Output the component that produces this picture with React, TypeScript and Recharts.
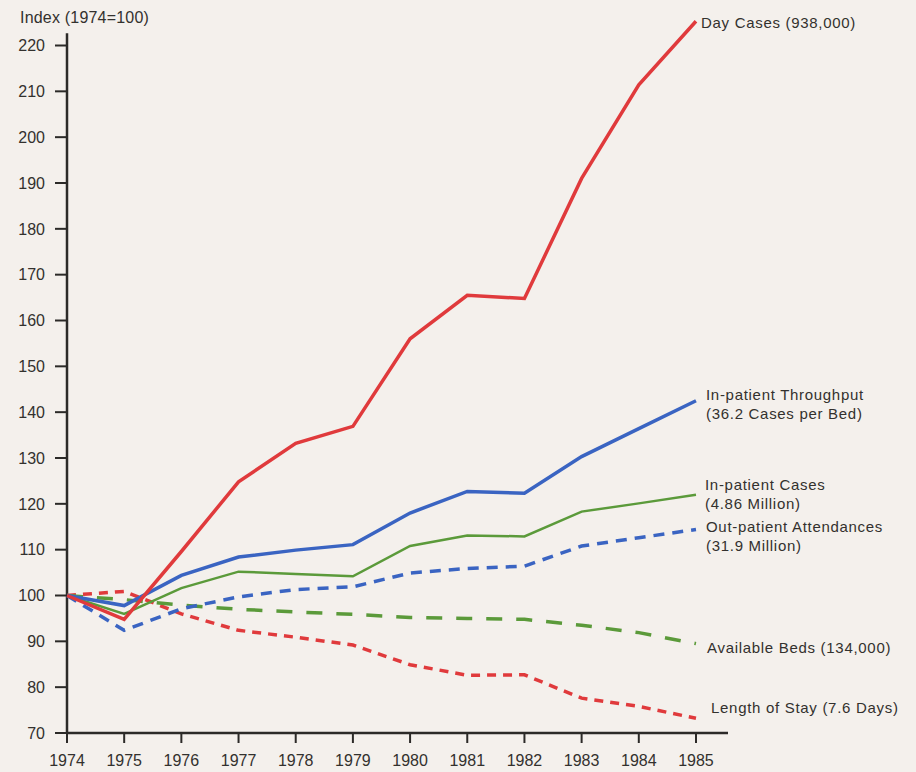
import React from "react";
import { LineChart, Line, XAxis, YAxis, ReferenceLine } from "recharts";

const years = [1974, 1975, 1976, 1977, 1978, 1979, 1980, 1981, 1982, 1983, 1984, 1985];
const yTicks = [70, 80, 90, 100, 110, 120, 130, 140, 150, 160, 170, 180, 190, 200, 210, 220];

const dayCases = [100, 94.8, 109.6, 124.8, 133.2, 136.9, 156, 165.5, 164.8, 191, 211.4, 225.3];
const throughput = [100, 97.8, 104.4, 108.4, 109.9, 111.1, 118, 122.7, 122.3, 130.3, 136.4, 142.5];
const inpatientCases = [100, 96, 101.6, 105.2, 104.7, 104.2, 110.8, 113.1, 112.9, 118.3, 120.1, 122];
const outpatient = [100, 92.4, 97.1, 99.7, 101.3, 101.9, 104.9, 105.9, 106.4, 110.8, 112.6, 114.4];
const beds = [100, 99.1, 97.9, 97, 96.4, 95.9, 95.2, 95, 94.8, 93.5, 91.9, 89.5];
const lengthOfStay = [100, 100.9, 96, 92.4, 90.9, 89.2, 84.9, 82.6, 82.7, 77.6, 75.8, 73.2];

const seriesLabels = [
  ["Day Cases (938,000)"],
  ["In-patient Throughput", "(36.2 Cases per Bed)"],
  ["In-patient Cases", "(4.86 Million)"],
  ["Out-patient Attendances", "(31.9 Million)"],
  ["Available Beds (134,000)"],
  ["Length of Stay (7.6 Days)"],
];

const rows = years.map((year, i) => ({
  year,
  dayCases: dayCases[i],
  throughput: throughput[i],
  inpatientCases: inpatientCases[i],
  outpatient: outpatient[i],
  beds: beds[i],
  lengthOfStay: lengthOfStay[i],
}));

const RED = "#e03a3c";
const BLUE = "#3a64c2";
const GREEN = "#5b9a3a";
const INK = "#2c2a28";
const TEXT = "#33312e";
const FONT = "'Liberation Sans', Arial, Helvetica, sans-serif";

// where each annotation sits (left, top)
const labelPos = [
  [701, 14],
  [706, 386],
  [705, 476],
  [706, 518],
  [707, 639],
  [711, 699],
];

export default function App() {
  const tickStyle = { fill: TEXT, fontSize: 16, fontFamily: FONT };

  return (
    <div
      style={{
        position: "absolute",
        left: 0,
        top: 0,
        width: 916,
        height: 772,
        background: "#f4f0ec",
        fontFamily: FONT,
        overflow: "hidden",
      }}
    >
      <div style={{ position: "absolute", left: 20, top: 9, fontSize: 16, lineHeight: "18px", color: TEXT, letterSpacing: 0.2 }}>
        Index (1974=100)
      </div>

      <LineChart width={916} height={772} data={rows} margin={{ top: 18, right: 188, bottom: 9, left: 0 }}>
        <XAxis
          dataKey="year"
          type="number"
          domain={[1974, 1985.56]}
          ticks={years}
          interval={0}
          height={30}
          tickSize={10}
          tickMargin={12}
          tick={tickStyle}
          axisLine={{ stroke: INK, strokeWidth: 2.5 }}
          tickLine={{ stroke: INK, strokeWidth: 2 }}
        />
        <YAxis
          type="number"
          domain={[70, 226]}
          ticks={yTicks}
          interval={0}
          width={67}
          tickSize={12}
          tickMargin={10}
          tick={tickStyle}
          axisLine={false}
          tickLine={{ stroke: INK, strokeWidth: 2 }}
        />
        <ReferenceLine
          segment={[
            { x: 1974, y: 70 },
            { x: 1974, y: 222.7 },
          ]}
          stroke={INK}
          strokeWidth={2.5}
        />

        <Line type="linear" dataKey="lengthOfStay" stroke={RED} strokeWidth={3.5} strokeDasharray="9 7" dot={false} isAnimationActive={false} />
        <Line type="linear" dataKey="beds" stroke={GREEN} strokeWidth={3.5} strokeDasharray="16 14" dot={false} isAnimationActive={false} />
        <Line type="linear" dataKey="outpatient" stroke={BLUE} strokeWidth={3.5} strokeDasharray="11 8" dot={false} isAnimationActive={false} />
        <Line type="linear" dataKey="inpatientCases" stroke={GREEN} strokeWidth={2.5} dot={false} isAnimationActive={false} />
        <Line type="linear" dataKey="throughput" stroke={BLUE} strokeWidth={3.5} dot={false} isAnimationActive={false} />
        <Line type="linear" dataKey="dayCases" stroke={RED} strokeWidth={3.5} dot={false} isAnimationActive={false} />
      </LineChart>

      {seriesLabels.map((lines, i) => (
        <div
          key={lines[0]}
          style={{
            position: "absolute",
            left: labelPos[i][0],
            top: labelPos[i][1],
            fontSize: 15,
            lineHeight: "18.5px",
            color: TEXT,
            letterSpacing: 0.7,
            whiteSpace: "nowrap",
          }}
        >
          {lines.map((t) => (
            <div key={t}>{t}</div>
          ))}
        </div>
      ))}
    </div>
  );
}
